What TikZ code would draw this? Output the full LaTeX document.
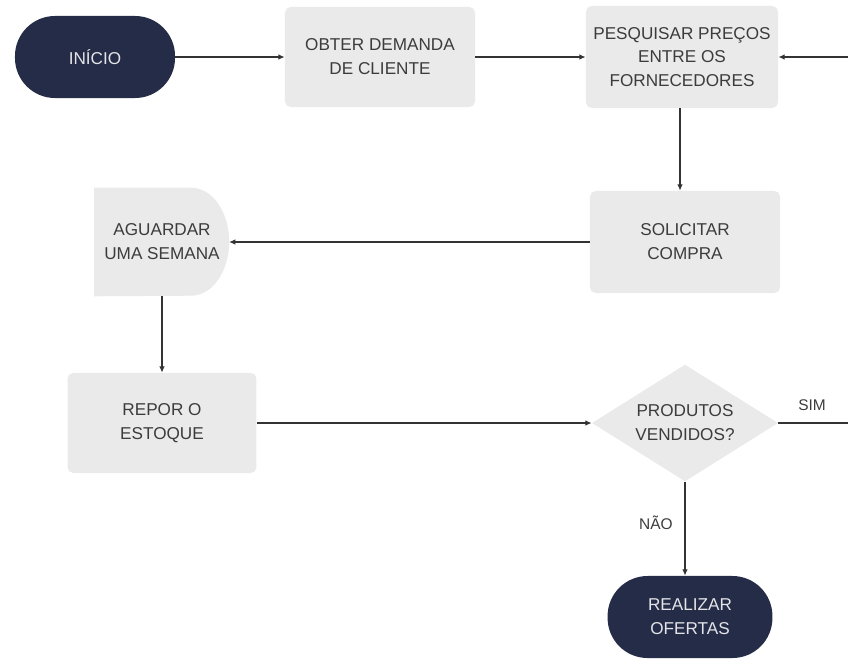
\documentclass[tikz,border=0pt]{standalone}
\usepackage{fontspec}
\setmainfont{Liberation Sans}
\usetikzlibrary{arrows.meta,shapes.geometric,backgrounds}
\definecolor{flownavy}{HTML}{252C47}
\definecolor{flowgray}{HTML}{EAEAEA}
\definecolor{flowtext}{HTML}{3C3C3C}
\definecolor{flowline}{HTML}{333333}
\definecolor{flowlight}{HTML}{E4E4E8}

\begin{document}
\begin{tikzpicture}[
    x=0.025cm, y=-0.025cm,
    terminal/.style={fill=flownavy, rounded corners=1cm, align=center, text=flowlight,
                     font=\fontsize{12.2}{17}\selectfont},
    process/.style={fill=flowgray, rounded corners=4pt, align=center, text=flowtext,
                    minimum width=4.75cm, minimum height=2.5cm, font=\fontsize{12.2}{17}\selectfont},
    waitbox/.style={align=center, text=flowtext, minimum width=3.375cm, minimum height=2.7cm,
                    inner sep=0pt, font=\fontsize{12.2}{17}\selectfont},
    decision/.style={diamond, fill=flowgray, align=center, text=flowtext, aspect=1.6, inner sep=0pt,
                     minimum width=4.65cm, minimum height=2.92cm, font=\fontsize{12.2}{17}\selectfont},
    flowlabel/.style={text=flowtext, font=\fontsize{11}{13}\selectfont},
    arrow/.style={-{Latex[length=1.6mm,width=1.4mm]}, draw=flowline, line width=1pt}
  ]
    \useasboundingbox (0,0) rectangle (848,659);

    % top row
    \node[terminal, minimum width=4.0cm, minimum height=2.05cm] (inicio) at (95,57) {INÍCIO};
    \node[process] (obter) at (380,57) {OBTER DEMANDA\\DE CLIENTE};
    \node[process, minimum width=4.8cm, minimum height=2.55cm] (pesquisar) at (682,57)
        {PESQUISAR PREÇOS\\ENTRE OS\\FORNECEDORES};

    % middle rows
    \node[process, minimum height=2.55cm] (solicitar) at (685,242) {SOLICITAR\\COMPRA};
    \node[waitbox] (aguardar) at (162,242) {AGUARDAR\\UMA SEMANA};
    \node[process, minimum width=4.72cm] (repor) at (162,423) {REPOR O\\ESTOQUE};
    \node[decision] (vendidos) at (685,423) {PRODUTOS\\VENDIDOS?};

    % bottom
    \node[terminal, minimum width=4.12cm, minimum height=2.05cm] (realizar) at (690,617)
        {REALIZAR\\OFERTAS};

    % delay shape behind the text
    \begin{scope}[on background layer]
      \fill[flowgray] (aguardar.south west) -- (aguardar.north west) -- ++(97,0)
        arc[start angle=90, end angle=-90, x radius=38, y radius=-54] -- cycle;
    \end{scope}

    \coordinate (retorno) at (848,57);
    \coordinate (simfim) at (848,423);

    \draw[arrow] (inicio) -- (obter);
    \draw[arrow] (obter) -- (pesquisar);
    \draw[arrow] (retorno) -- (pesquisar.east);
    \draw[arrow] (pesquisar.south -| 680,0) -- (solicitar.north -| 680,0);
    \draw[arrow] (solicitar) -- (aguardar.east -| 229,0);
    \draw[arrow] (aguardar) -- (repor);
    \draw[arrow] (repor) -- (vendidos);
    \draw[draw=flowline, line width=1pt] (vendidos.east) -- (simfim);
    \draw[arrow] (vendidos) -- (realizar.north -| vendidos);

    \node[flowlabel] (sim) at (812,405) {SIM};
    \node[flowlabel] (nao) at (656,523) {NÃO};
  \end{tikzpicture}
\end{document}
